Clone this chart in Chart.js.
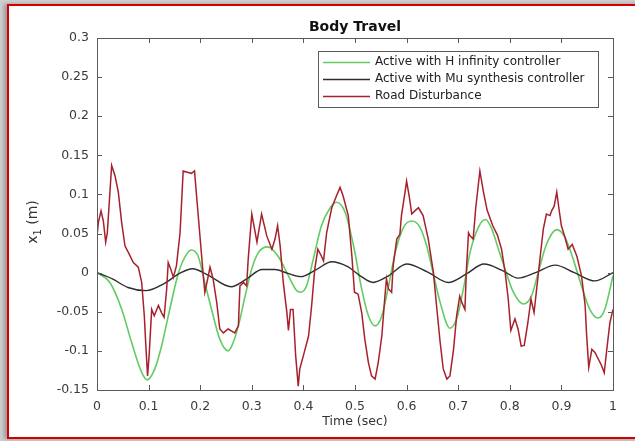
<!DOCTYPE html>
<html>
<head>
<meta charset="utf-8">
<script src="https://cdn.jsdelivr.net/npm/chart.js@4.4.1/dist/chart.umd.min.js"></script>
<style>
  html, body { margin: 0; padding: 0; }
  body { width: 635px; height: 441px; background: #cfcfcf; position: relative; overflow: hidden; }
  #frame { position: absolute; left: 7px; top: 4px; width: 640px; height: 431px; background: #fff; border: 2px solid #d40000; box-shadow: -3px 0 4px #9a9a9a; }
  #body-travel { position: absolute; left: 0; top: 0; }
</style>
</head>
<body>
<div id="frame"></div>
<canvas id="body-travel" width="635" height="441"></canvas>
<script>
// Body Travel

const seriesNames = [
  'Active with H infinity controller',
  'Active with Mu synthesis controller',
  'Road Disturbance',
];

// H infinity (green)
const hinfT = [0, 0.025, 0.048, 0.067, 0.087, 0.0975, 0.112, 0.125, 0.141, 0.158, 0.174, 0.183, 0.196, 0.209, 0.222, 0.238, 0.254, 0.261, 0.274, 0.287, 0.3, 0.313, 0.331, 0.351, 0.371, 0.387, 0.395, 0.406, 0.419, 0.435, 0.452, 0.464, 0.481, 0.497, 0.513, 0.526, 0.539, 0.552, 0.565, 0.578, 0.594, 0.61, 0.626, 0.639, 0.652, 0.665, 0.684, 0.697, 0.71, 0.723, 0.739, 0.753, 0.765, 0.778, 0.791, 0.807, 0.826, 0.842, 0.855, 0.871, 0.891, 0.907, 0.923, 0.939, 0.955, 0.971, 0.984, 1];
const hinfV = [0, -0.0126, -0.047, -0.089, -0.128, -0.137, -0.123, -0.094, -0.047, 0, 0.024, 0.029, 0.021, -0.013, -0.047, -0.085, -0.1, -0.094, -0.068, -0.03, 0.005, 0.026, 0.033, 0.021, -0.004, -0.023, -0.025, -0.017, 0.017, 0.06, 0.083, 0.09, 0.077, 0.035, -0.021, -0.055, -0.068, -0.055, -0.017, 0.026, 0.058, 0.066, 0.058, 0.034, -0.002, -0.038, -0.071, -0.059, -0.021, 0.026, 0.058, 0.068, 0.056, 0.03, 0.004, -0.025, -0.04, -0.03, 0, 0.036, 0.055, 0.045, 0.017, -0.017, -0.047, -0.058, -0.047, -0.004];

// Mu synthesis (black)
const muT = [0, 0.03, 0.06, 0.095, 0.13, 0.16, 0.185, 0.215, 0.26, 0.29, 0.32, 0.345, 0.37, 0.395, 0.425, 0.455, 0.485, 0.51, 0.535, 0.565, 0.6, 0.64, 0.681, 0.715, 0.75, 0.785, 0.816, 0.85, 0.888, 0.925, 0.965, 1];
const muV = [0, -0.008, -0.019, -0.023, -0.014, -0.001, 0.005, -0.003, -0.018, -0.008, 0.004, 0.004, -0.001, -0.005, 0.004, 0.014, 0.008, -0.004, -0.0125, -0.004, 0.011, 0.001, -0.0125, -0.002, 0.011, 0.003, -0.007, 0, 0.0096, 0, -0.0105, 0];

// Road disturbance (red)
const roadT = [0, 0.0026, 0.0078, 0.0123, 0.0168, 0.02, 0.0284, 0.0349, 0.0413, 0.0478, 0.0543, 0.0607, 0.0704, 0.08, 0.0866, 0.0917, 0.0943, 0.098, 0.101, 0.106, 0.111, 0.119, 0.125, 0.13, 0.135, 0.138, 0.143, 0.148, 0.154, 0.161, 0.167, 0.177, 0.183, 0.189, 0.193, 0.2, 0.206, 0.209, 0.2145, 0.219, 0.225, 0.232, 0.238, 0.245, 0.254, 0.262, 0.267, 0.274, 0.277, 0.284, 0.29, 0.293, 0.3, 0.31, 0.319, 0.329, 0.339, 0.345, 0.35, 0.355, 0.361, 0.368, 0.371, 0.375, 0.38, 0.385, 0.39, 0.393, 0.4, 0.41, 0.416, 0.422, 0.428, 0.435, 0.439, 0.445, 0.455, 0.464, 0.471, 0.477, 0.487, 0.494, 0.499, 0.506, 0.513, 0.519, 0.526, 0.532, 0.539, 0.545, 0.552, 0.558, 0.561, 0.565, 0.571, 0.574, 0.581, 0.587, 0.59, 0.597, 0.6, 0.605, 0.61, 0.616, 0.623, 0.632, 0.642, 0.652, 0.658, 0.665, 0.671, 0.678, 0.684, 0.691, 0.697, 0.703, 0.707, 0.713, 0.716, 0.72, 0.723, 0.729, 0.734, 0.742, 0.749, 0.756, 0.767, 0.776, 0.784, 0.791, 0.797, 0.802, 0.81, 0.816, 0.822, 0.828, 0.835, 0.841, 0.847, 0.852, 0.859, 0.865, 0.871, 0.878, 0.881, 0.886, 0.891, 0.895, 0.9, 0.907, 0.913, 0.921, 0.93, 0.939, 0.946, 0.949, 0.953, 0.959, 0.965, 0.972, 0.978, 0.983, 0.988, 0.994, 1];
const roadV = [0.047, 0.064, 0.079, 0.066, 0.039, 0.051, 0.137, 0.124, 0.103, 0.064, 0.034, 0.026, 0.013, 0.007, -0.0125, -0.055, -0.089, -0.132, -0.106, -0.047, -0.055, -0.042, -0.051, -0.057, -0.021, 0.013, 0.0045, -0.006, 0.009, 0.051, 0.13, 0.128, 0.127, 0.13, 0.098, 0.043, -0.004, -0.025, -0.008, 0.007, -0.008, -0.038, -0.072, -0.077, -0.072, -0.075, -0.077, -0.068, -0.017, -0.0125, -0.017, 0.017, 0.075, 0.039, 0.075, 0.047, 0.03, 0.043, 0.06, 0.034, -0.0125, -0.051, -0.074, -0.047, -0.047, -0.106, -0.145, -0.123, -0.106, -0.081, -0.042, 0.0045, 0.03, 0.021, 0.015, 0.051, 0.083, 0.098, 0.109, 0.098, 0.073, 0.021, -0.025, -0.0275, -0.051, -0.085, -0.115, -0.132, -0.136, -0.115, -0.081, -0.03, -0.008, -0.021, -0.025, 0.009, 0.043, 0.049, 0.073, 0.103, 0.117, 0.098, 0.075, 0.079, 0.083, 0.073, 0.043, 0, -0.042, -0.089, -0.123, -0.136, -0.132, -0.098, -0.055, -0.03, -0.038, -0.047, 0.0045, 0.051, 0.047, 0.043, 0.083, 0.13, 0.103, 0.08, 0.06, 0.048, 0.03, 0, -0.034, -0.074, -0.059, -0.072, -0.094, -0.093, -0.064, -0.034, -0.051, -0.021, 0.021, 0.056, 0.075, 0.073, 0.079, 0.085, 0.103, 0.083, 0.06, 0.045, 0.03, 0.036, 0.021, -0.004, -0.042, -0.081, -0.121, -0.098, -0.102, -0.111, -0.119, -0.128, -0.098, -0.064, -0.047];

// axis ticks
const xTicks = [0, 0.1, 0.2, 0.3, 0.4, 0.5, 0.6, 0.7, 0.8, 0.9, 1];
const yTicks = [-0.15, -0.1, -0.05, 0, 0.05, 0.1, 0.15, 0.2, 0.25, 0.3];

const colors = ['#62cc62', '#2e2e2e', '#a8202c'];
const FONT = '"DejaVu Sans", sans-serif';

const toPoints = (ts, vs) => ts.map((t, i) => ({ x: t, y: vs[i] }));
const fmt = v => String(Math.round(v * 100) / 100);

const matlabBox = {
  id: 'matlabBox',
  afterDatasetsDraw(chart) {
    const { ctx, chartArea: a, scales } = chart;
    ctx.save();
    ctx.strokeStyle = '#5a5a5a';
    ctx.lineWidth = 1;
    ctx.strokeRect(a.left + 0.5, a.top + 0.5, a.right - a.left, a.bottom - a.top);
    ctx.beginPath();
    xTicks.forEach(v => {
      const px = Math.round(scales.x.getPixelForValue(v)) + 0.5;
      ctx.moveTo(px, a.bottom); ctx.lineTo(px, a.bottom - 5);
      ctx.moveTo(px, a.top); ctx.lineTo(px, a.top + 5);
    });
    yTicks.forEach(v => {
      const py = Math.round(scales.y.getPixelForValue(v)) + 0.5;
      ctx.moveTo(a.left, py); ctx.lineTo(a.left + 5, py);
      ctx.moveTo(a.right, py); ctx.lineTo(a.right - 5, py);
    });
    ctx.stroke();
    ctx.restore();
  },
  afterDraw(chart) {
    const { ctx, chartArea: a } = chart;
    const cx = (a.left + a.right) / 2;
    ctx.save();
    ctx.fillStyle = '#111';
    ctx.textAlign = 'center';
    ctx.textBaseline = 'middle';
    ctx.font = 'bold 14px ' + FONT;
    ctx.fillText('Body Travel', cx, 27);

    ctx.fillStyle = '#333';
    ctx.font = '12.5px ' + FONT;
    ctx.fillText('Time (sec)', cx, 422);

    // y label with subscript
    ctx.save();
    ctx.translate(33, 222);
    ctx.rotate(-Math.PI / 2);
    ctx.textAlign = 'left';
    ctx.font = '14px ' + FONT;
    const w1 = ctx.measureText('x').width;
    const w3 = ctx.measureText(' (m)').width;
    ctx.font = '10px ' + FONT;
    const w2 = ctx.measureText('1').width;
    const x0 = -(w1 + w2 + w3) / 2;
    ctx.font = '14px ' + FONT;
    ctx.fillText('x', x0, 0);
    ctx.font = '10px ' + FONT;
    ctx.fillText('1', x0 + w1, 5);
    ctx.font = '14px ' + FONT;
    ctx.fillText(' (m)', x0 + w1 + w2, 0);
    ctx.restore();

    // legend
    const lx = 318, ly = 51, lw = 280, lh = 56;
    ctx.fillStyle = '#fff';
    ctx.fillRect(lx, ly, lw, lh);
    ctx.strokeStyle = '#5a5a5a';
    ctx.lineWidth = 1;
    ctx.strokeRect(lx + 0.5, ly + 0.5, lw, lh);
    ctx.textAlign = 'left';
    ctx.font = '12px ' + FONT;
    seriesNames.forEach((name, i) => {
      const yy = 62 + i * 17;
      ctx.strokeStyle = colors[i];
      ctx.lineWidth = 1.5;
      ctx.beginPath();
      ctx.moveTo(323, yy + 0.5);
      ctx.lineTo(370, yy + 0.5);
      ctx.stroke();
      ctx.fillStyle = '#222';
      ctx.fillText(name, 375, yy);
    });
    ctx.restore();
  },
};

new Chart(document.getElementById('body-travel').getContext('2d'), {
  type: 'line',
  data: {
    datasets: [
      { label: seriesNames[0], data: toPoints(hinfT, hinfV), borderColor: colors[0], borderWidth: 1.6, cubicInterpolationMode: 'monotone', order: 2 },
      { label: seriesNames[1], data: toPoints(muT, muV), borderColor: colors[1], borderWidth: 1.4, cubicInterpolationMode: 'monotone', order: 1 },
      { label: seriesNames[2], data: toPoints(roadT, roadV), borderColor: colors[2], borderWidth: 1.5, tension: 0, order: 0 },
    ],
  },
  options: {
    responsive: false,
    animation: false,
    layout: { padding: { top: 38, right: 22, left: 0, bottom: 0 } },
    elements: { point: { radius: 0 } },
    plugins: { legend: { display: false }, title: { display: false }, tooltip: { enabled: false } },
    scales: {
      x: {
        type: 'linear', min: 0, max: 1,
        afterBuildTicks: s => { s.ticks = xTicks.map(v => ({ value: v })); },
        afterFit: s => { s.height = 51; },
        grid: { display: false, drawTicks: false },
        border: { display: false },
        ticks: { padding: 9, color: '#3a3a3a', font: { family: FONT, size: 12.5 }, callback: fmt, maxRotation: 0 },
      },
      y: {
        type: 'linear', min: -0.15, max: 0.3,
        afterBuildTicks: s => { s.ticks = yTicks.map(v => ({ value: v })); },
        afterFit: s => { s.width = 97; },
        grid: { display: false, drawTicks: false },
        border: { display: false },
        ticks: { padding: 8, color: '#3a3a3a', font: { family: FONT, size: 12.5 }, callback: fmt },
      },
    },
  },
  plugins: [matlabBox],
});
</script>
</body>
</html>
